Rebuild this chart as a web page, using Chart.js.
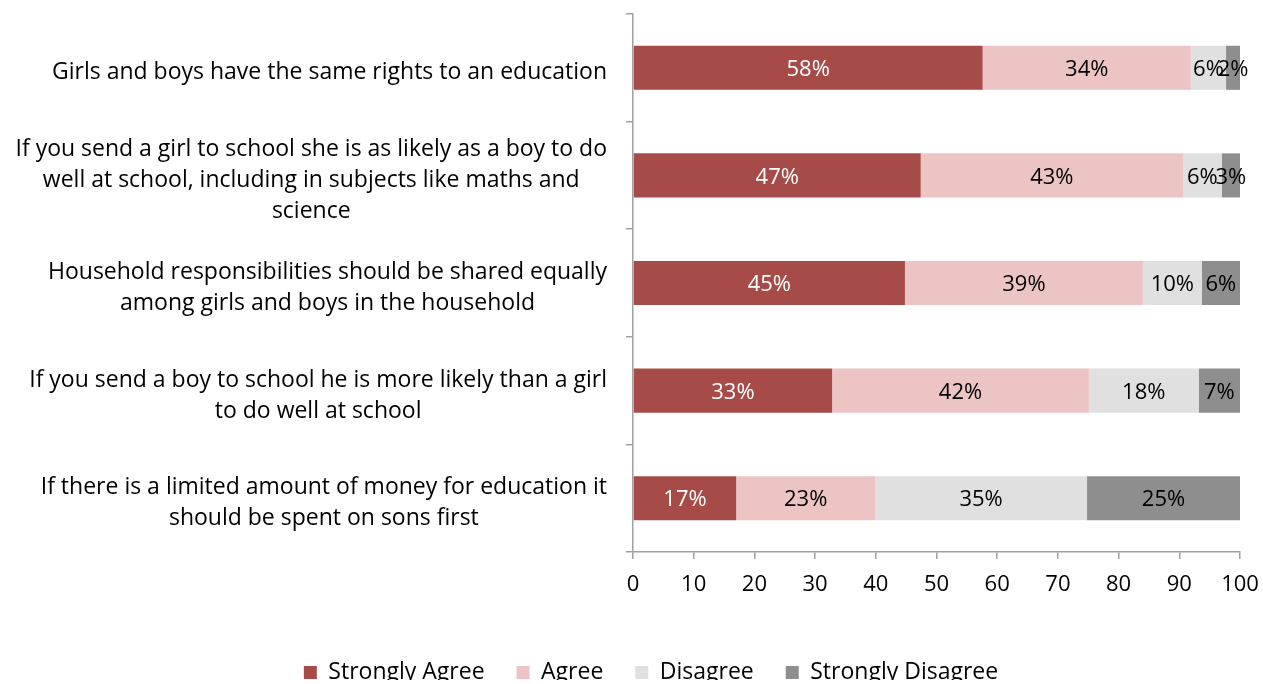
<!DOCTYPE html>
<html>
<head>
<meta charset="utf-8">
<script src="https://cdn.jsdelivr.net/npm/chart.js@4.4.1/dist/chart.umd.min.js"></script>
<style>
    html, body { margin: 0; padding: 0; background: #fff; }
    #wrap { width: 1263px; height: 684px; }
</style>
</head>
<body>
<div id="wrap"><canvas id="chart" width="1263" height="684"></canvas></div>
<script>
const STATEMENTS = [
    ['Girls and boys have the same rights to an education'],
    ['If you send a girl to school she is as likely as a boy to do', 'well at school, including in subjects like maths and', 'science'],
    ['Household responsibilities should be shared equally', 'among girls and boys in the household'],
    ['If you send a boy to school he is more likely than a girl', 'to do well at school'],
    ['If there is a limited amount of money for education it', 'should be spent on sons first']
];

const STRONGLY_AGREE    = [57.6, 47.4, 44.8, 32.8, 17.0];
const AGREE             = [34.3, 43.2, 39.2, 42.3, 22.9];
const DISAGREE          = [5.8, 6.4, 9.7, 18.1, 34.9];
const STRONGLY_DISAGREE = [2.3, 3.0, 6.3, 6.8, 25.2];

const X_TICKS = [0, 10, 20, 30, 40, 50, 60, 70, 80, 90, 100];

const FONT = '"Open Sans"';
const AXIS_GREY = '#a0a0a0';

// category labels: block right-aligned, lines centred inside the block
const categoryLabels = {
    id: 'categoryLabels',
    afterDraw(chart) {
        const ctx = chart.ctx;
        const yScale = chart.scales.y;
        const right = yScale.right - 26;
        const lineH = 31;
        ctx.save();
        ctx.font = `23px ${FONT}`;
        ctx.fillStyle = '#000';
        ctx.textAlign = 'center';
        ctx.textBaseline = 'middle';
        STATEMENTS.forEach((lines, i) => {
            const widest = Math.max(...lines.map(l => ctx.measureText(l).width));
            const cx = right - widest / 2;
            const cy = yScale.getPixelForTick(i) + 5;
            const top = cy - (lines.length - 1) * lineH / 2;
            lines.forEach((l, j) => ctx.fillText(l, cx, top + j * lineH));
        });
        ctx.restore();
    }
};

// percentage in the middle of every segment
const segmentLabels = {
    id: 'segmentLabels',
    afterDatasetsDraw(chart) {
        const ctx = chart.ctx;
        ctx.save();
        ctx.font = `22px ${FONT}`;
        ctx.textAlign = 'center';
        ctx.textBaseline = 'middle';
        chart.data.datasets.forEach((ds, d) => {
            ctx.fillStyle = d === 0 ? '#fff' : '#000';
            chart.getDatasetMeta(d).data.forEach((bar, i) => {
                const x = (bar.x + bar.base) / 2;
                ctx.fillText(Math.round(ds.data[i]) + '%', x, bar.y + 2);
            });
        });
        ctx.restore();
    }
};

// nudge the legend row a little right of the chart centre
const legendShift = {
    id: 'legendShift',
    afterLayout(chart) {
        if (chart.legend) {
            chart.legend.left += 31;
            chart.legend.right += 31;
        }
    }
};

const ds = (label, data, color) => ({
    label, data,
    backgroundColor: color,
    borderWidth: 0,
    categoryPercentage: 1,
    barPercentage: 0.41
});

new Chart(document.getElementById('chart'), {
    type: 'bar',
    data: {
        labels: STATEMENTS.map(s => s.join(' ')),
        datasets: [
            ds('Strongly Agree', STRONGLY_AGREE, '#a64b47'),
            ds('Agree', AGREE, '#ebc4c3'),
            ds('Disagree', DISAGREE, '#e0e0e0'),
            ds('Strongly Disagree', STRONGLY_DISAGREE, '#8e8e8e')
        ]
    },
    options: {
        indexAxis: 'y',
        responsive: false,
        animation: false,
        layout: { padding: { top: 14, right: 23, left: 0, bottom: 4 } },
        scales: {
            x: {
                stacked: true,
                min: 0,
                max: 100,
                afterBuildTicks: s => { s.ticks = X_TICKS.map(v => ({ value: v })); },
                afterFit: s => { s.height = 77; s.paddingRight = 0; s.paddingLeft = 0; },
                border: { color: AXIS_GREY, width: 1.5 },
                grid: { drawOnChartArea: false, color: AXIS_GREY, tickLength: 7, lineWidth: 1.5 },
                ticks: { color: '#000', font: { family: FONT, size: 22 }, padding: 13, maxRotation: 0 }
            },
            y: {
                stacked: true,
                afterFit: s => { s.width = 633; },
                border: { color: AXIS_GREY, width: 1.5 },
                grid: { drawOnChartArea: false, color: AXIS_GREY, tickLength: 7, lineWidth: 1.5, offset: true },
                ticks: { display: false }
            }
        },
        plugins: {
            legend: {
                position: 'bottom',
                maxHeight: 51,
                labels: {
                    color: '#000',
                    font: { family: FONT, size: 23 },
                    boxWidth: 13,
                    boxHeight: 13,
                    padding: 32
                }
            },
            tooltip: { enabled: false }
        }
    },
    plugins: [categoryLabels, segmentLabels, legendShift]
});
</script>
</body>
</html>
